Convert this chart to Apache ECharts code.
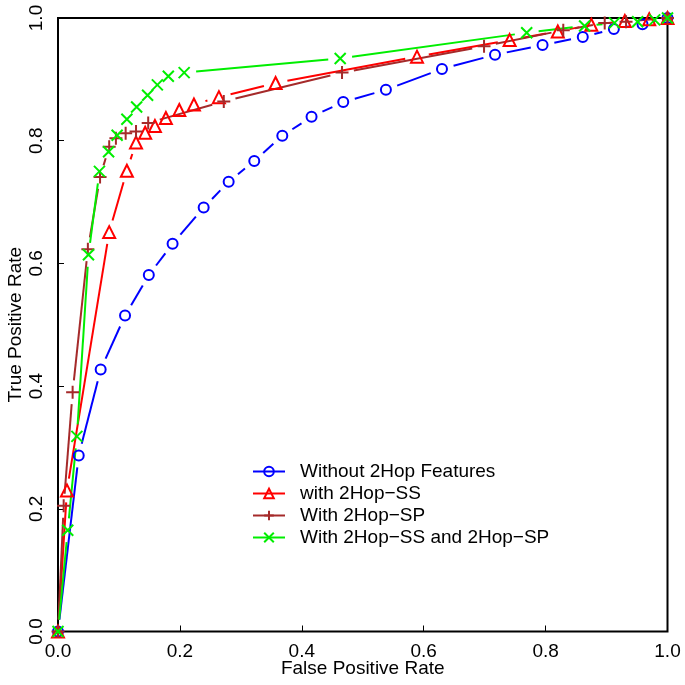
<!DOCTYPE html>
<html>
<head>
<meta charset="utf-8">
<script src="https://cdn.jsdelivr.net/npm/echarts@6/dist/echarts.min.js"></script>
<style>html,body{margin:0;padding:0;background:#fff;}#c{width:685px;height:685px;}</style>
</head>
<body>
<div id="c"></div>
<script>
var seriesNames = ['Without 2Hop Features', 'with 2Hop\u2212SS', 'With 2Hop\u2212SP', 'With 2Hop\u2212SS and 2Hop\u2212SP'];
var xTicks = [0, 0.2, 0.4, 0.6, 0.8, 1.0];

var blueX = [0, 0.034, 0.07, 0.11, 0.149, 0.188, 0.239, 0.28, 0.322, 0.368, 0.416, 0.468, 0.538, 0.63, 0.717, 0.795, 0.861, 0.912, 0.959, 1];
var blueY = [0, 0.287, 0.427, 0.515, 0.581, 0.632, 0.691, 0.733, 0.767, 0.808, 0.839, 0.863, 0.883, 0.917, 0.94, 0.956, 0.969, 0.982, 0.99, 1];

var redX = [0, 0.0147, 0.084, 0.113, 0.128, 0.143, 0.159, 0.177, 0.199, 0.223, 0.264, 0.357, 0.589, 0.741, 0.82, 0.875, 0.93, 0.97, 1];
var redY = [0, 0.23, 0.651, 0.751, 0.797, 0.813, 0.824, 0.837, 0.850, 0.859, 0.871, 0.894, 0.937, 0.964, 0.978, 0.989, 0.995, 0.998, 1];

var brownX = [0, 0.0093, 0.024, 0.049, 0.069, 0.084, 0.095, 0.111, 0.128, 0.148, 0.272, 0.466, 0.699, 0.829, 0.897, 0.932, 1];
var brownY = [0, 0.205, 0.39, 0.623, 0.741, 0.790, 0.804, 0.812, 0.815, 0.829, 0.864, 0.911, 0.954, 0.980, 0.992, 0.994, 1];

var greenX = [0, 0.016, 0.031, 0.05, 0.068, 0.083, 0.097, 0.113, 0.129, 0.147, 0.163, 0.181, 0.207, 0.463, 0.769, 0.864, 0.913, 0.951, 0.979, 1];
var greenY = [0, 0.165, 0.318, 0.614, 0.750, 0.782, 0.809, 0.835, 0.855, 0.874, 0.891, 0.905, 0.911, 0.934, 0.976, 0.987, 0.992, 0.994, 0.997, 1];

var colors = ['#0000FF', '#FF0000', '#A52A2A', '#00EE00'];
var symbols = ['circle', 'triangle', 'path://M5,0V10M0,5H10', 'path://M0,0L10,10M10,0L0,10'];
var symSizes = [10, 12, 13, 11];

var xs = [blueX, redX, brownX, greenX];
var ys = [blueY, redY, brownY, greenY];
var FONT = 'Liberation Sans';
var GAP = 12;

function pts(i) { return xs[i].map(function (x, k) { return [x, ys[i][k]]; }); }
function segs(i) {
  var out = [];
  for (var k = 0; k < xs[i].length - 1; k++) out.push([xs[i][k], ys[i][k], xs[i][k + 1], ys[i][k + 1]]);
  return out;
}

var series = [];
// line segments with gaps around points (type = "b")
[0, 1, 2, 3].forEach(function (i) {
  series.push({
    type: 'custom',
    coordinateSystem: 'cartesian2d',
    silent: true,
    z: 2,
    encode: { x: [0, 2], y: [1, 3] },
    data: segs(i),
    renderItem: function (params, api) {
      var p1 = api.coord([api.value(0), api.value(1)]);
      var p2 = api.coord([api.value(2), api.value(3)]);
      var dx = p2[0] - p1[0], dy = p2[1] - p1[1];
      var len = Math.sqrt(dx * dx + dy * dy);
      if (len <= 2 * GAP) return { type: 'group', children: [] };
      var ux = dx / len, uy = dy / len;
      return {
        type: 'line',
        shape: { x1: p1[0] + ux * GAP, y1: p1[1] + uy * GAP, x2: p2[0] - ux * GAP, y2: p2[1] - uy * GAP },
        style: { stroke: colors[i], lineWidth: 2 }
      };
    }
  });
});
// markers
[0, 1, 2, 3].forEach(function (i) {
  series.push({
    name: seriesNames[i],
    type: 'line',
    z: 3,
    data: pts(i),
    symbol: symbols[i],
    symbolSize: symSizes[i],
    showSymbol: true,
    showAllSymbol: true,
    lineStyle: { opacity: 0, width: 0, color: colors[i] },
    itemStyle: { color: 'transparent', borderColor: colors[i], borderWidth: 2 },
    emphasis: { disabled: true }
  });
});

var chart = echarts.init(document.getElementById('c'), null, { renderer: 'canvas' });
chart.setOption({
  animation: false,
  backgroundColor: '#fff',
  grid: { left: 58, right: 17.5, top: 18, bottom: 53.5, containLabel: false, outerBoundsMode: 'none',
    show: true, borderColor: '#000', borderWidth: 2, backgroundColor: 'transparent' },
  xAxis: {
    type: 'value', min: 0, max: 1, interval: 0.2,
    name: 'False Positive Rate', nameLocation: 'middle', nameGap: 28, nameMoveOverlap: false,
    nameTextStyle: { fontFamily: FONT, fontSize: 19, color: '#000' },
    axisLine: { show: false },
    axisTick: { show: true, inside: true, length: 6, lineStyle: { color: '#000', width: 1 } },
    splitLine: { show: false },
    axisLabel: { fontFamily: FONT, fontSize: 19, color: '#000', margin: 11, hideOverlap: false,
      formatter: function (v) { return v.toFixed(1); } }
  },
  yAxis: {
    type: 'value', min: 0, max: 1, interval: 0.2,
    name: 'True Positive Rate', nameLocation: 'middle', nameGap: 33, nameMoveOverlap: false,
    nameTextStyle: { fontFamily: FONT, fontSize: 19, color: '#000' },
    axisLine: { show: false },
    axisTick: { show: true, inside: true, length: 6, lineStyle: { color: '#000', width: 1 } },
    splitLine: { show: false },
    axisLabel: { fontFamily: FONT, fontSize: 19, color: '#000', margin: 12, rotate: 90, hideOverlap: false,
      formatter: function (v) { return v.toFixed(1); } }
  },
  legend: {
    left: 252, top: 462, orient: 'vertical', padding: 0, itemGap: 3,
    itemWidth: 32, itemHeight: 12,
    textStyle: { fontFamily: FONT, fontSize: 19, color: '#000', padding: [0, 0, 0, 10] },
    data: seriesNames.map(function (n, i) {
      return { name: n, lineStyle: { color: colors[i], width: 2, opacity: 1 },
        itemStyle: { color: 'transparent', borderColor: colors[i], borderWidth: 2 } };
    })
  },
  series: series
});
</script>
</body>
</html>
